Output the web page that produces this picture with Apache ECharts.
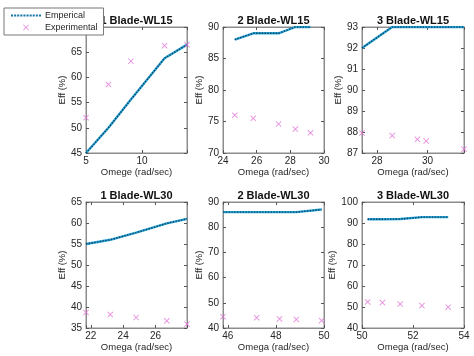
<!DOCTYPE html>
<html>
<head>
<meta charset="utf-8">
<script src="https://cdn.jsdelivr.net/npm/echarts@6/dist/echarts.min.js"></script>
<style>html,body{margin:0;padding:0;background:#fff}#c{width:474px;height:356px}</style>
</head>
<body>
<div id="c"></div>
<script>
// ---- data ----
const titles = ['1 Blade-WL15', '2 Blade-WL15', '3 Blade-WL15', '1 Blade-WL30', '2 Blade-WL30', '3 Blade-WL30'];
const xNames = ['Omege (rad/sec)', 'Omega (rad/sec)', 'Omega (rad/sec)', 'Omega (rad/sec)', 'Omega (rad/sec)', 'Omega (rad/sec)'];
const omega1 = [5, 7, 9, 12, 14];
const empirical1 = [45, 50, 55.6, 63.8, 66.5];
const experimental1 = [52, 58.6, 63.2, 66.3, 66.5];
const omega2 = [24.7, 25.8, 27.3, 28.3, 29.2];
const empirical2 = [88, 89, 89, 90, 90];
const experimental2 = [76, 75.5, 74.6, 73.8, 73.2];
const omega3 = [27.4, 28.6, 29.6, 29.95, 31.45];
const empirical3 = [92, 93, 93, 93, 93];
const experimental3 = [87.95, 87.83, 87.65, 87.57, 87.18];
const omega4 = [21.7, 23.2, 24.8, 26.7, 27.95];
const empirical4 = [55, 56, 57.7, 59.9, 61];
const experimental4 = [38.7, 38.2, 37.5, 36.7, 35.9];
const omega5 = [45.8, 47.2, 48.15, 48.85, 49.9];
const empirical5 = [86, 86, 86, 86, 87];
const experimental5 = [44.5, 44.1, 43.6, 43.4, 42.9];
const omega6 = [50.22, 50.8, 51.5, 52.35, 53.38];
const empirical6 = [91.8, 91.8, 91.9, 92.8, 92.8];
const experimental6 = [52.4, 52.1, 51.4, 50.7, 49.9];
const xMin = [5, 24, 27.4, 21.7, 45.8, 50];
const xMax = [14, 30, 31.45, 27.95, 50, 54];
const xTicks = [[5, 10], [24, 26, 28, 30], [28, 30], [22, 24, 26], [46, 48, 50], [50, 52, 54]];
const yMin = [45, 70, 87, 35, 40, 40];
const yMax = [70, 90, 93, 65, 90, 100];
const yStep = [5, 5, 1, 5, 10, 10];

const omegas = [omega1, omega2, omega3, omega4, omega5, omega6];
const emps = [empirical1, empirical2, empirical3, empirical4, empirical5, empirical6];
const exps = [experimental1, experimental2, experimental3, experimental4, experimental5, experimental6];

// ---- layout ----
const colLeft = [86, 223, 362];
const colWidth = [101, 101, 102];
const rowTop = [27, 202];
const plotH = 126;
const FONT = 'Liberation Sans';
const TXT = '#262626';
const AX = '#8c8c8c';
const LINE_BASE = '#2aa6d8';
const LINE_DOT = '#0b3d5e';
const PINK = '#e06ed6';
const XSYM = 'path://M0,1L1,0L5,4L9,0L10,1L6,5L10,9L9,10L5,6L1,10L0,9L4,5Z';
let dotIcon = 'path://';
for (let k = 0; k < 10; k++) dotIcon += 'M' + (k * 3) + ',0h2v2h-2z';

const grids = [], xAxes = [], yAxes = [], series = [], graphics = [];
for (let i = 0; i < 6; i++) {
  const c = i % 3, r = Math.floor(i / 3);
  grids.push({left: colLeft[c], top: rowTop[r], width: colWidth[c], height: plotH, show: true, borderColor: AX, borderWidth: 1, backgroundColor: '#fff'});
  const ticks = xTicks[i];
  const span = ticks.length > 1 ? ticks[1] - ticks[0] : 1;
  const aligned = Math.abs(xMin[i] / span - Math.round(xMin[i] / span)) < 1e-9;
  const xBase = {
    type: 'value', gridIndex: i, min: xMin[i], max: xMax[i],
    axisLine: {show: true, lineStyle: {color: AX, width: 1}},
    axisTick: {show: true, inside: true, length: 3, lineStyle: {color: '#555'}},
    splitLine: {show: false}
  };
  if (aligned) xBase.interval = span; else xBase.splitNumber = Math.round((xMax[i] - xMin[i]) / span);
  const fmt = v => ticks.some(t => Math.abs(t - v) < 1e-6) ? String(v) : '';
  xAxes.push(Object.assign({}, xBase, {
    position: 'bottom',
    axisLabel: {show: true, formatter: fmt, color: TXT, fontSize: 10, fontFamily: FONT, margin: 3, showMinLabel: true, showMaxLabel: true},
    name: xNames[i], nameLocation: 'middle', nameGap: 13,
    nameTextStyle: {color: TXT, fontSize: 9.5, fontFamily: FONT}
  }));
  xAxes.push(Object.assign({}, xBase, {position: 'top', axisLabel: {show: false}}));
  const yBase = {
    type: 'value', gridIndex: i, min: yMin[i], max: yMax[i], interval: yStep[i],
    axisLine: {show: true, lineStyle: {color: AX, width: 1}},
    axisTick: {show: true, inside: true, length: 3, lineStyle: {color: '#555'}},
    splitLine: {show: false}
  };
  yAxes.push(Object.assign({}, yBase, {
    position: 'left',
    axisLabel: {show: true, color: TXT, fontSize: 10, fontFamily: FONT, margin: 4},
    name: 'Eff (%)', nameLocation: 'middle', nameGap: 16, nameRotate: 90,
    nameTextStyle: {color: TXT, fontSize: 9.5, fontFamily: FONT}
  }));
  yAxes.push(Object.assign({}, yBase, {position: 'right', axisLabel: {show: false}}));

  const lineData = omegas[i].map((x, k) => [x, emps[i][k]]);
  const ptData = omegas[i].map((x, k) => [x, exps[i][k]]);
  series.push({
    type: 'line', name: 'base', xAxisIndex: 2 * i, yAxisIndex: 2 * i, data: lineData,
    symbol: 'none', lineStyle: {color: LINE_BASE, width: 2.4}, silent: true, z: 2
  });
  series.push({
    type: 'line', name: 'Emperical', xAxisIndex: 2 * i, yAxisIndex: 2 * i, data: lineData,
    symbol: 'none', itemStyle: {color: LINE_DOT}, lineStyle: {color: LINE_DOT, width: 1.4, type: [1.4, 1.4]}, z: 3
  });
  series.push({
    type: 'scatter', name: 'Experimental', xAxisIndex: 2 * i, yAxisIndex: 2 * i, data: ptData,
    symbol: XSYM, symbolSize: 6, itemStyle: {color: PINK}, z: 4
  });
  graphics.push({
    type: 'text', x: colLeft[c] + colWidth[c] / 2, y: rowTop[r] - 6, z: 1,
    style: {text: titles[i], textAlign: 'center', textVerticalAlign: 'middle', font: 'bold 11px "Liberation Sans"', fill: '#111'}
  });
}

const chart = echarts.init(document.getElementById('c'), null, {renderer: 'canvas'});
chart.setOption({
  animation: false,
  backgroundColor: '#fff',
  grid: grids,
  xAxis: xAxes,
  yAxis: yAxes,
  series: series,
  graphic: graphics,
  legend: {
    data: [
      {name: 'Emperical', icon: dotIcon, itemStyle: {color: '#1677a8'}},
      {name: 'Experimental'}
    ],
    orient: 'vertical', left: 4, top: 8, z: 20,
    itemWidth: 30, itemHeight: 6, itemGap: 3, padding: [3, 6, 3, 7],
    backgroundColor: '#fff', borderColor: '#777', borderWidth: 1, borderRadius: 0,
    textStyle: {color: TXT, fontSize: 9, fontFamily: FONT, padding: [0, 0, 0, -1]},
    selectedMode: false
  }
});
</script>
</body>
</html>
